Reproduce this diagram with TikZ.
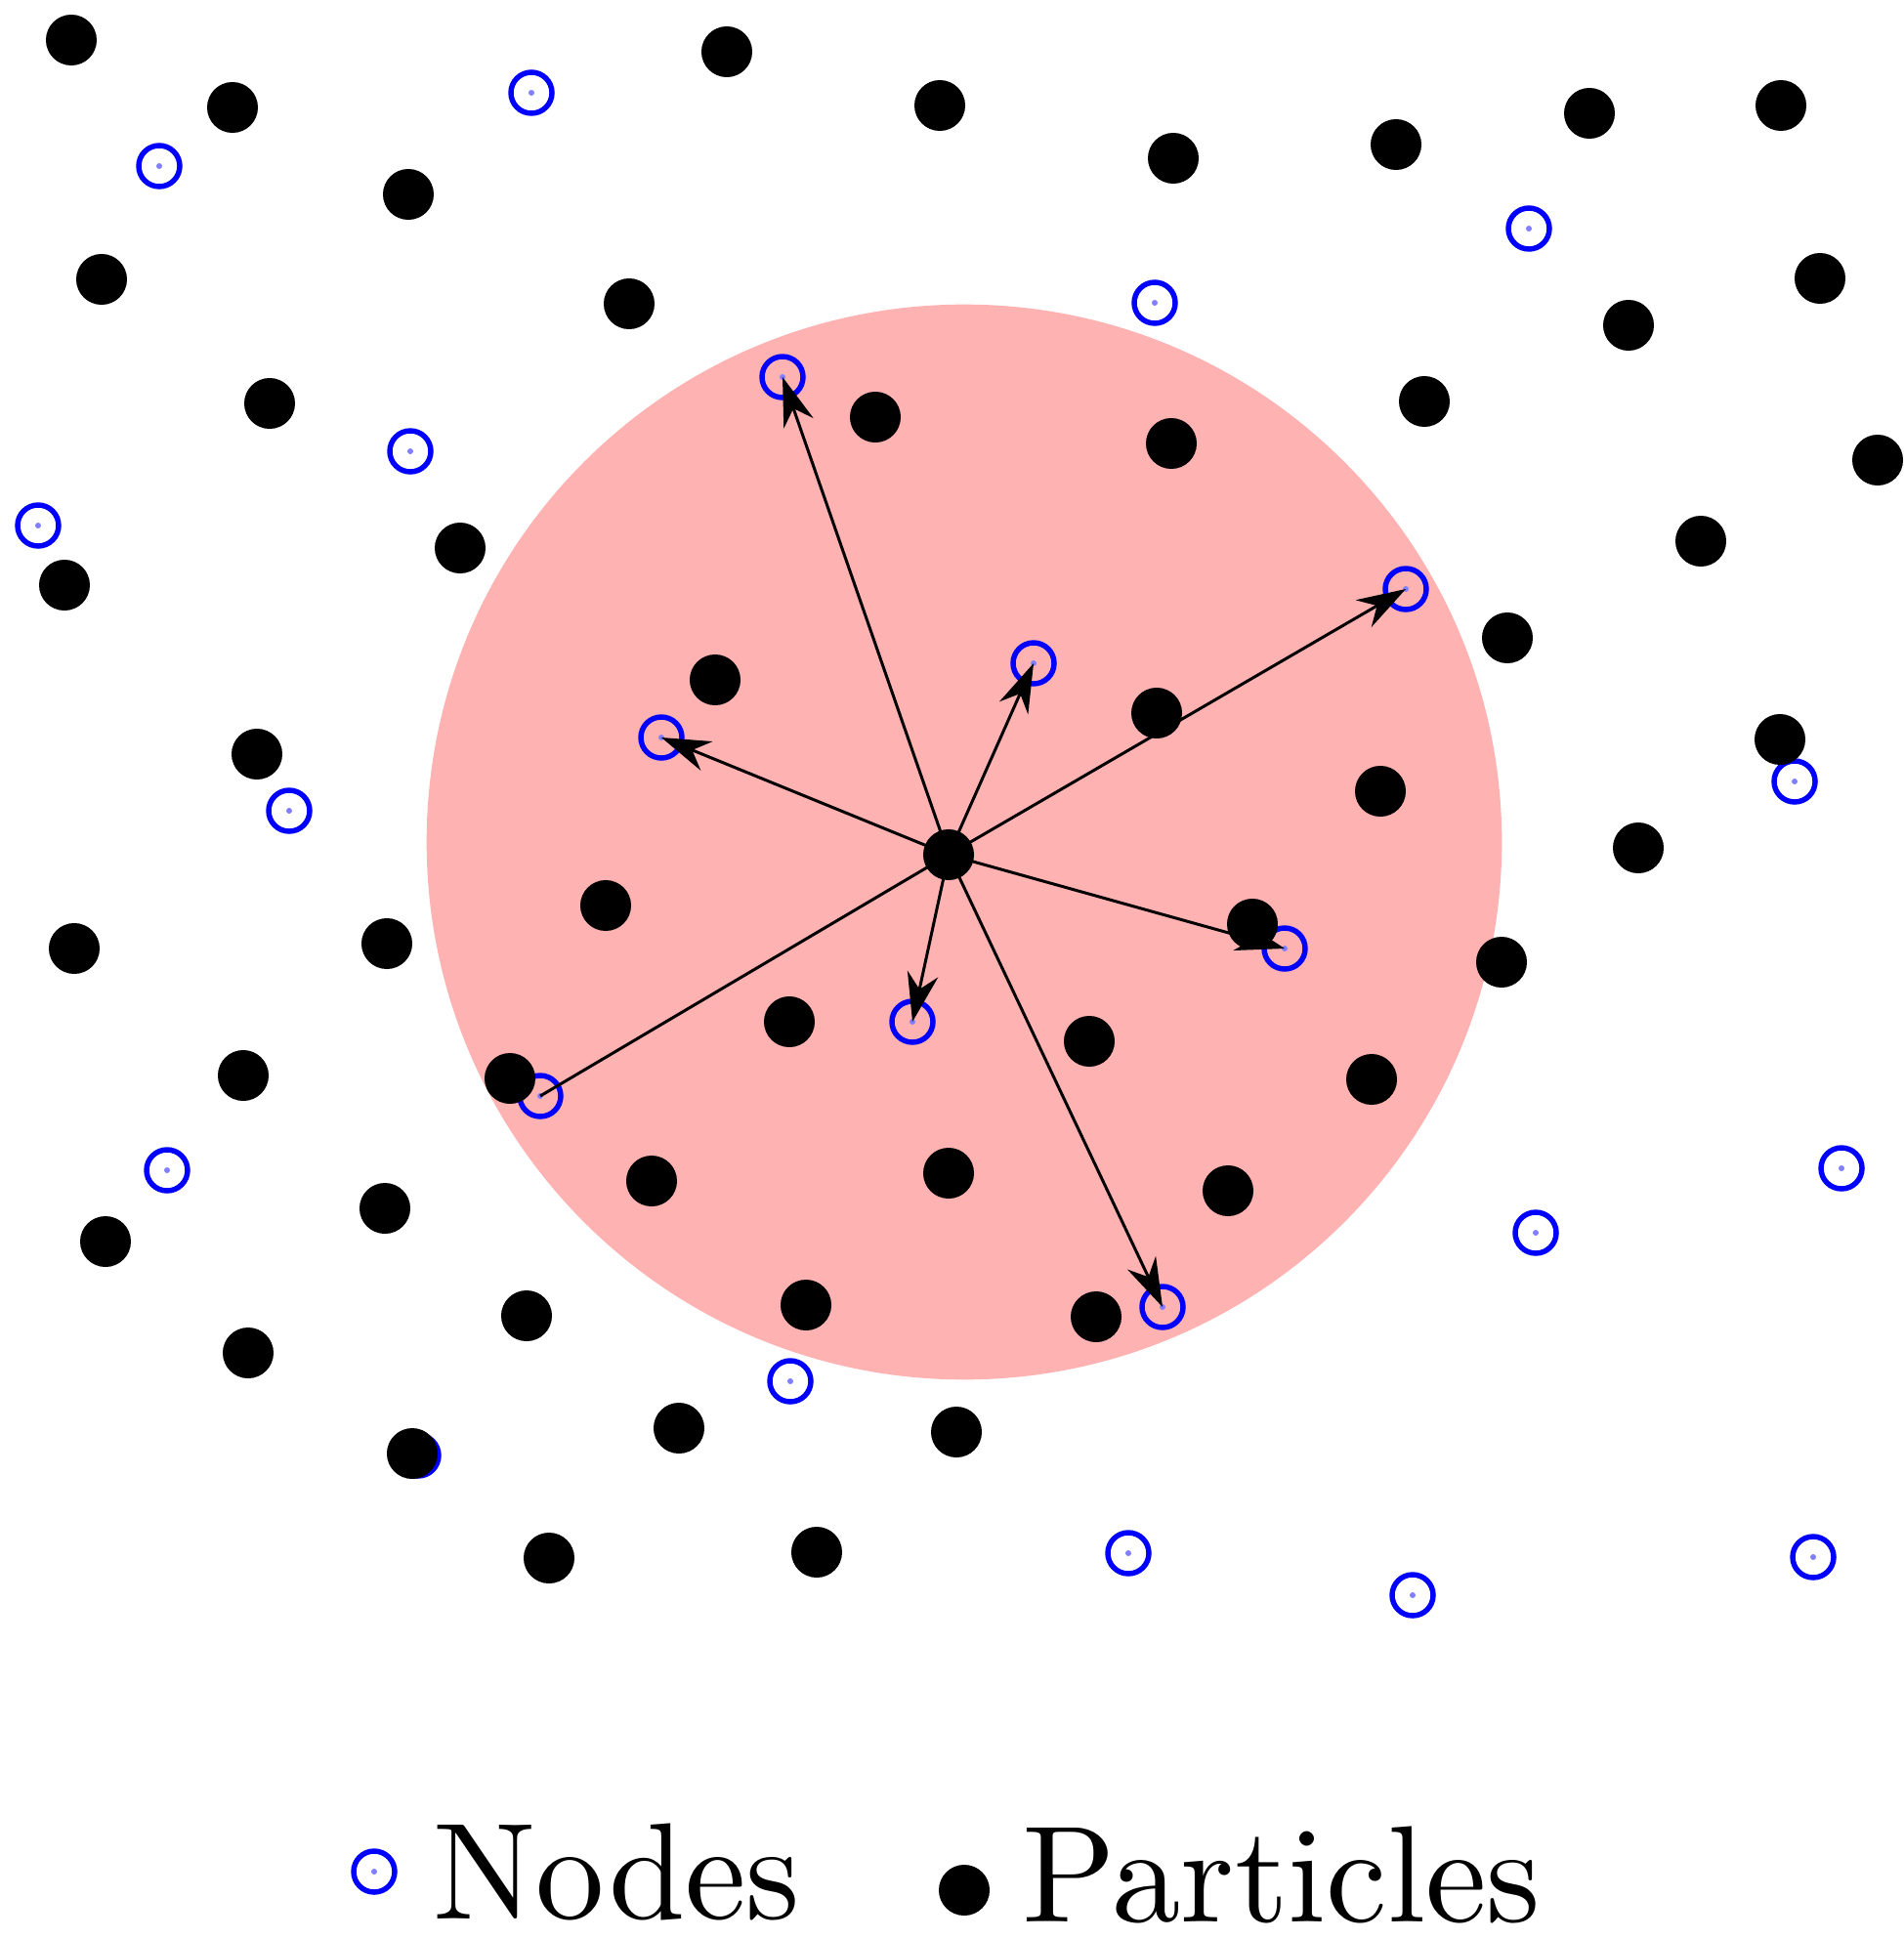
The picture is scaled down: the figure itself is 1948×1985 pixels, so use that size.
\documentclass[tikz,border=0pt]{standalone}
\usepackage{fontspec}
\newfontfamily\keyfont{lmroman10-regular.otf}
\usetikzlibrary{positioning, arrows.meta}

\begin{document}
\begin{tikzpicture}[x=0.01cm, y=-0.01cm,
   mesh/.style={circle, draw=blue, line width=1.55pt, minimum size=0.42cm, inner sep=0pt,
      path picture={\fill[blue!50] (path picture bounding box.center) circle (0.03cm);}},
   particle/.style={circle, fill=black, minimum size=0.52cm, inner sep=0pt},
   vec/.style={-{Stealth[length=0.5cm, width=0.32cm, inset=0.16cm]}, line width=0.85pt},
   legend/.style={inner sep=0pt, font=\keyfont\fontsize{40}{48}\selectfont}]
   \useasboundingbox (0,0) rectangle (1948,1985);

   % support domain
   \fill[red!30] (987,862) circle (5.5cm);

   % nodes
   \node[mesh] (n_1)  at (544,95)   {};
   \node[mesh] (n_2)  at (163,170)  {};
   \node[mesh] (n_3)  at (1565,234) {};
   \node[mesh] (n_4)  at (1182,310) {};
   \node[mesh] (n_5)  at (801,386)  {};
   \node[mesh] (n_6)  at (420,462)  {};
   \node[mesh] (n_7)  at (39,538)   {};
   \node[mesh] (n_8)  at (1439,603) {};
   \node[mesh] (n_9)  at (1058,679) {};
   \node[mesh] (n_10) at (677,755)  {};
   \node[mesh] (n_11) at (296,830)  {};
   \node[mesh] (n_12) at (1837,800) {};
   \node[mesh] (n_13) at (1315,971) {};
   \node[mesh] (n_14) at (934,1046) {};
   \node[mesh] (n_15) at (553,1122) {};
   \node[mesh] (n_16) at (171,1198) {};
   \node[mesh] (n_17) at (1885,1196) {};
   \node[mesh] (n_18) at (1572,1262) {};
   \node[mesh] (n_19) at (1190,1338) {};
   \node[mesh] (n_20) at (809,1414) {};
   \node[mesh] (n_21) at (428,1490) {};
   \node[mesh] (n_22) at (1155,1590) {};
   \node[mesh] (n_23) at (1446,1633) {};
   \node[mesh] (n_24) at (1856,1594) {};

   % kernel vectors
   \coordinate (x_0) at (971,875);
   \path[vec]
   (x_0) edge (n_5.center)
         edge (n_9.center)
         edge (n_8.center)
         edge (n_10.center)
         edge [-] (n_15.center)
         edge (n_13.center)
         edge (n_14.center)
         edge (n_19.center);

   % particles
   \node[particle] (p_0)  at (x_0) {};
   \node[particle] (p_1)  at (73,41)    {};
   \node[particle] (p_2)  at (238,110)  {};
   \node[particle] (p_3)  at (744,53)   {};
   \node[particle] (p_4)  at (962,108)  {};
   \node[particle] (p_5)  at (1201,162) {};
   \node[particle] (p_6)  at (1429,148) {};
   \node[particle] (p_7)  at (1627,116) {};
   \node[particle] (p_8)  at (1823,108) {};
   \node[particle] (p_9)  at (418,199)  {};
   \node[particle] (p_10) at (104,286)  {};
   \node[particle] (p_11) at (644,311)  {};
   \node[particle] (p_12) at (1863,285) {};
   \node[particle] (p_13) at (1667,333) {};
   \node[particle] (p_14) at (276,413)  {};
   \node[particle] (p_15) at (896,427)  {};
   \node[particle] (p_16) at (1199,454) {};
   \node[particle] (p_17) at (1458,411) {};
   \node[particle] (p_18) at (1922,471) {};
   \node[particle] (p_19) at (471,561)  {};
   \node[particle] (p_20) at (1741,554) {};
   \node[particle] (p_21) at (66,599)   {};
   \node[particle] (p_22) at (1543,653) {};
   \node[particle] (p_23) at (732,696)  {};
   \node[particle] (p_24) at (1184,730) {};
   \node[particle] (p_25) at (1822,757) {};
   \node[particle] (p_26) at (263,772)  {};
   \node[particle] (p_27) at (1413,810) {};
   \node[particle] (p_28) at (1677,868) {};
   \node[particle] (p_29) at (620,927)  {};
   \node[particle] (p_30) at (76,971)   {};
   \node[particle] (p_31) at (396,966)  {};
   \node[particle] (p_32) at (1282,946) {};
   \node[particle] (p_33) at (1537,985) {};
   \node[particle] (p_34) at (808,1046) {};
   \node[particle] (p_35) at (1115,1066) {};
   \node[particle] (p_36) at (249,1101) {};
   \node[particle] (p_37) at (522,1104) {};
   \node[particle] (p_38) at (1404,1105) {};
   \node[particle] (p_39) at (667,1209) {};
   \node[particle] (p_40) at (971,1201) {};
   \node[particle] (p_41) at (1257,1219) {};
   \node[particle] (p_42) at (394,1237) {};
   \node[particle] (p_43) at (108,1271) {};
   \node[particle] (p_44) at (539,1347) {};
   \node[particle] (p_45) at (825,1336) {};
   \node[particle] (p_46) at (1122,1348) {};
   \node[particle] (p_47) at (254,1385) {};
   \node[particle] (p_48) at (422,1488) {};
   \node[particle] (p_49) at (695,1462) {};
   \node[particle] (p_50) at (979,1466) {};
   \node[particle] (p_51) at (562,1595) {};
   \node[particle] (p_52) at (836,1589) {};

   % legend
   \node[mesh] (key_n) at (383,1916) {};
   \node[legend, right=0.36cm of key_n] (key_nt) {Nodes};
   \node[particle] (key_p) at (987,1935) {};
   \node[legend, anchor=base west] (key_pt) at (1046,1967) {Particles};
\end{tikzpicture}
\end{document}
